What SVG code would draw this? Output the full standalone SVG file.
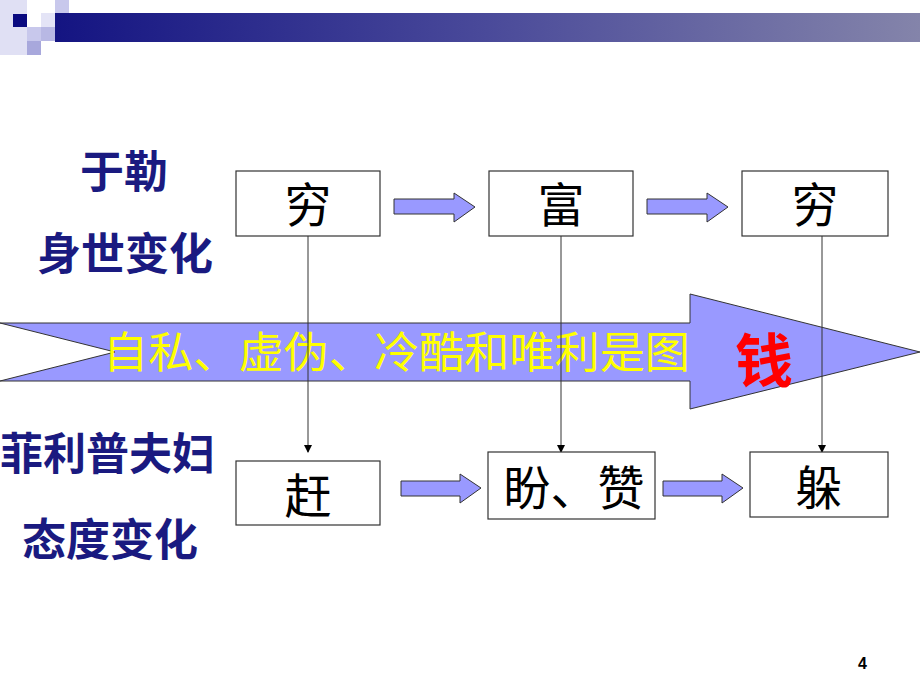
<svg xmlns="http://www.w3.org/2000/svg" width="920" height="690" viewBox="0 0 920 690">
<defs>
<linearGradient id="bar" x1="0" y1="0" x2="1" y2="0">
<stop offset="0" stop-color="#141482"/>
<stop offset="0.5" stop-color="#4a4a9a"/>
<stop offset="1" stop-color="#8484aa"/>
</linearGradient>
<marker id="ah" markerWidth="8" markerHeight="8" refX="7" refY="4" orient="auto" markerUnits="userSpaceOnUse">
<path d="M0,0 L8,4 L0,8 Z" fill="#000"/>
</marker>
</defs>
<style>
.box{fill:#fff;stroke:#333;stroke-width:1.2}
.bt{font-family:"Noto Sans CJK SC",sans-serif;font-size:47px;fill:#000;text-anchor:middle}
.lab{font-family:"Noto Sans CJK SC",sans-serif;font-size:44px;fill:#1a1a80;font-weight:bold}
.blk{fill:#9999ff;stroke:#333;stroke-width:1}
.vl{stroke:#333;stroke-width:1;fill:none}
</style>
<g id="header">
<rect x="0" y="0" width="27" height="55" fill="#e0e0f4"/>
<rect x="55" y="0" width="14" height="27" fill="#c8c8ec"/>
<rect x="41" y="13" width="14" height="14" fill="#e4e4f6"/>
<rect x="13" y="14" width="14" height="13" fill="#0a0a80"/>
<rect x="55" y="13" width="865" height="29" fill="url(#bar)"/>
<rect x="41" y="27" width="14" height="14" fill="#b8b8e4"/>
<rect x="27" y="27" width="14" height="14" fill="#c8c8ec"/>
<rect x="27" y="41" width="14" height="14" fill="#a8a8dc"/>
</g>
<g id="bigarrow">
<path class="blk" d="M0,323 L690,323 L690,294 L920,352 L690,409 L690,381 L0,381 L115,352 Z"/>
<text x="103" y="368" font-family="Noto Sans CJK SC,sans-serif" font-size="43" fill="#ffff00" textLength="587" lengthAdjust="spacingAndGlyphs">自私、虚伪、冷酷和唯利是图</text>
<text x="735" y="382" font-family="Noto Sans CJK SC,sans-serif" font-size="58" font-weight="bold" fill="#ff0000">钱</text>
</g>
<g id="connectors">
<line class="vl" x1="308" y1="236" x2="308" y2="452" marker-end="url(#ah)"/>
<line class="vl" x1="561" y1="236" x2="561" y2="452" marker-end="url(#ah)"/>
<line class="vl" x1="822" y1="236" x2="822" y2="452" marker-end="url(#ah)"/>
<path class="blk" d="M394,199 L454,199 L454,193 L475,207 L454,222 L454,214 L394,214 Z"/>
<path class="blk" d="M647,199 L707,199 L707,193 L728,207 L707,222 L707,214 L647,214 Z"/>
<path class="blk" d="M401,481 L460,481 L460,474 L481,488 L460,503 L460,496 L401,496 Z"/>
<path class="blk" d="M663,481 L722,481 L722,474 L743,488 L722,503 L722,496 L663,496 Z"/>
</g>
<g id="label-yule">
<text class="lab" x="80" y="188">于勒</text>
<text class="lab" x="37" y="270">身世变化</text>
</g>
<g id="label-philip">
<text class="lab" x="0" y="470" textLength="215" lengthAdjust="spacingAndGlyphs">菲利普夫妇</text>
<text class="lab" x="22" y="556">态度变化</text>
</g>
<g id="n1"><rect class="box" x="236" y="171" width="144" height="65"/><text class="bt" x="308" y="222">穷</text></g>
<g id="n2"><rect class="box" x="489" y="171" width="144" height="65"/><text class="bt" x="561" y="222">富</text></g>
<g id="n3"><rect class="box" x="742" y="171" width="146" height="65"/><text class="bt" x="815" y="222">穷</text></g>
<g id="n4"><rect class="box" x="236" y="461" width="144" height="64"/><text class="bt" x="308" y="513">赶</text></g>
<g id="n5"><rect class="box" x="488" y="452" width="167" height="67"/><text class="bt" x="574" y="505">盼、赞</text></g>
<g id="n6"><rect class="box" x="750" y="452" width="138" height="65"/><text class="bt" x="819" y="505">躲</text></g>
<text x="858" y="669" font-family="Liberation Sans,sans-serif" font-size="16" font-weight="bold" fill="#000">4</text>
</svg>
